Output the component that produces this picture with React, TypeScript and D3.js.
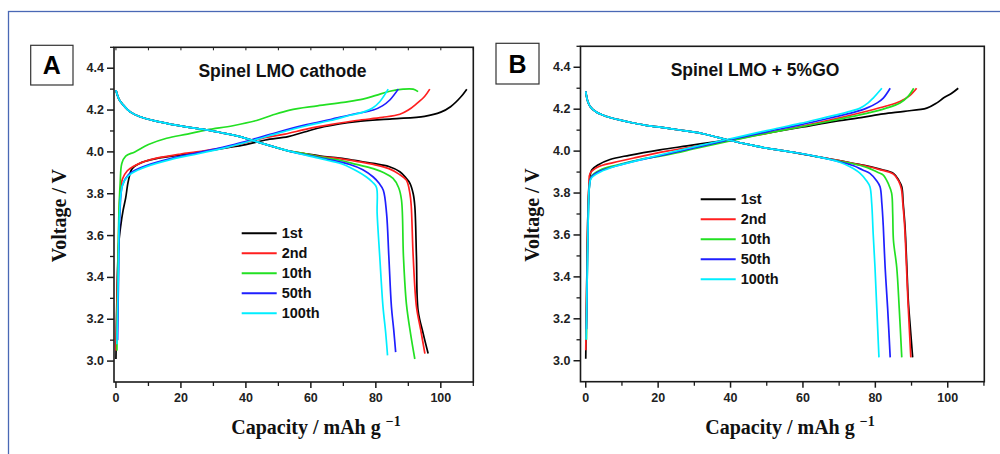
import React from "react";
import * as d3 from "d3";

// ---------- data ----------
const cycles = ["1st", "2nd", "10th", "50th", "100th"];
const colors = ["#000000", "#ff1f1f", "#22e022", "#1f1fff", "#00eeff"];
const xMajorTicks = [0, 20, 40, 60, 80, 100];
const xMinorTicks = [10, 30, 50, 70, 90, 110];
const yMajorTicks = [3.0, 3.2, 3.4, 3.6, 3.8, 4.0, 4.2, 4.4];
const yMinorTicks = [3.1, 3.3, 3.5, 3.7, 3.9, 4.1, 4.3, 4.5];

// Panel A charge curves [capacity, voltage]
const aCharge1st = [[0, 3.01], [0.3, 3.3], [0.8, 3.55], [1.5, 3.65], [2.2, 3.72], [3, 3.78], [3.8, 3.86], [5, 3.92], [8, 3.95], [13, 3.97], [22, 3.99], [33, 4.017], [40, 4.035], [46, 4.057], [53, 4.073], [58, 4.095], [64, 4.12], [74, 4.145], [85, 4.158], [95, 4.17], [100, 4.19], [103, 4.216], [106, 4.26], [108, 4.3]];
const aCharge2nd = [[0, 3.05], [0.5, 3.4], [0.9, 3.65], [1.3, 3.8], [2, 3.87], [3.5, 3.91], [5.3, 3.93], [8, 3.95], [12.5, 3.97], [20, 3.99], [24.8, 4.0], [35, 4.025], [45, 4.065], [52, 4.085], [59, 4.11], [66, 4.13], [74, 4.15], [82, 4.165], [87.4, 4.18], [90, 4.2], [92.5, 4.23], [95, 4.265], [96.6, 4.3]];
const aCharge10th = [[0.3, 3.05], [0.6, 3.4], [0.9, 3.7], [1.3, 3.85], [1.8, 3.945], [3, 3.98], [5.8, 4.0], [10, 4.035], [15.6, 4.065], [22, 4.085], [28, 4.105], [36, 4.125], [43.3, 4.15], [48, 4.175], [53.5, 4.2], [62, 4.22], [70, 4.237], [76, 4.252], [80, 4.27], [84.3, 4.29], [88.4, 4.3], [91.5, 4.3], [93, 4.288]];
const aCharge50th = [[0.5, 3.1], [0.8, 3.4], [1.2, 3.7], [2, 3.84], [3.8, 3.89], [7, 3.92], [12.5, 3.95], [20, 3.98], [25, 3.995], [35, 4.03], [43.3, 4.065], [50, 4.095], [58.7, 4.13], [66, 4.155], [73, 4.18], [79.2, 4.2], [82, 4.22], [84.3, 4.248], [86.9, 4.3]];
const aCharge100th = [[0.3, 3.08], [0.7, 3.4], [1.1, 3.7], [2, 3.84], [3.8, 3.885], [7, 3.915], [12.5, 3.945], [20, 3.975], [25, 3.99], [35, 4.025], [43.3, 4.06], [50, 4.09], [58.7, 4.125], [66, 4.15], [72, 4.175], [76.1, 4.19], [79, 4.21], [81.2, 4.24], [83.8, 4.3]];

// Panel A discharge curves
const aDischargeStart = [[0, 4.295], [1, 4.25], [2.2, 4.225], [4.5, 4.19], [7.4, 4.168], [12, 4.148], [17.6, 4.13], [22, 4.118], [27.9, 4.105], [33, 4.09], [38.2, 4.073], [43, 4.05], [48.4, 4.025], [53, 4.005]];
const aDischarge1stEnd = [[58.7, 3.99], [63, 3.98], [68.9, 3.97], [74, 3.958], [79.2, 3.945], [84, 3.93], [87.4, 3.905], [89.3, 3.875], [90.5, 3.85], [91.5, 3.8], [92, 3.74], [92.5, 3.5], [93, 3.243], [94.6, 3.13], [96.1, 3.036]];
const aDischarge2ndEnd = [[58.7, 3.99], [63, 3.978], [68.9, 3.968], [74, 3.955], [79.2, 3.94], [84, 3.92], [87, 3.895], [89.4, 3.865], [90.5, 3.8], [90.9, 3.74], [91.5, 3.5], [92.5, 3.26], [93.8, 3.15], [95.1, 3.036]];
const aDischarge10thEnd = [[58.7, 3.99], [63, 3.975], [68.9, 3.96], [74, 3.94], [79.2, 3.92], [82.5, 3.9], [85.3, 3.873], [87, 3.83], [87.9, 3.77], [88.5, 3.5], [89.4, 3.275], [90.7, 3.13], [92, 3.01]];
const aDischarge50thEnd = [[58.7, 3.985], [65, 3.965], [72, 3.94], [76, 3.915], [79.2, 3.88], [81, 3.85], [82.3, 3.817], [83.3, 3.706], [84, 3.5], [84.8, 3.26], [85.5, 3.15], [86.1, 3.043]];
const aDischarge100thEnd = [[58.7, 3.983], [65, 3.96], [70, 3.94], [74, 3.91], [77.1, 3.88], [79, 3.855], [80.2, 3.83], [80.4, 3.706], [81.2, 3.5], [82.2, 3.26], [83, 3.14], [83.6, 3.027]];

// Panel B charge curves
const bCharge1st = [[0, 3.01], [0.3, 3.4], [0.6, 3.7], [1, 3.85], [1.66, 3.91], [3.5, 3.935], [6.7, 3.96], [12, 3.98], [20.5, 4.006], [28, 4.025], [36.2, 4.046], [43, 4.065], [50, 4.086], [60, 4.115], [68.4, 4.141], [76, 4.16], [82.2, 4.178], [88, 4.19], [94.2, 4.205], [97, 4.23], [98.8, 4.253], [101, 4.275], [102.9, 4.3]];
const bCharge2nd = [[0, 3.05], [0.3, 3.4], [0.6, 3.7], [0.9, 3.84], [1.2, 3.894], [3.5, 3.925], [7.6, 3.945], [14, 3.97], [22.4, 4.0], [31, 4.025], [40.8, 4.054], [50, 4.085], [59.2, 4.117], [68, 4.15], [77.6, 4.19], [83, 4.215], [86.8, 4.237], [89.5, 4.265], [91.4, 4.3]];
const bCharge10th = [[0.2, 3.1], [0.4, 3.4], [0.7, 3.7], [1, 3.83], [1.5, 3.878], [4, 3.91], [8.6, 3.934], [15, 3.96], [22.4, 3.982], [31, 4.015], [40.8, 4.052], [50, 4.085], [59.2, 4.115], [68, 4.145], [77.6, 4.18], [83, 4.205], [86.8, 4.23], [89, 4.26], [90.6, 4.3]];
const bCharge50th = [[0.2, 3.15], [0.4, 3.4], [0.7, 3.7], [1, 3.83], [1.5, 3.875], [4, 3.905], [8.6, 3.93], [15, 3.958], [22.4, 3.985], [31, 4.02], [40.8, 4.058], [50, 4.092], [59.2, 4.125], [68, 4.16], [74, 4.185], [77.6, 4.205], [80.5, 4.23], [82.2, 4.253], [84.1, 4.3]];
const bCharge100th = [[0.1, 3.1], [0.4, 3.4], [0.7, 3.7], [1, 3.83], [1.5, 3.87], [4, 3.9], [8.6, 3.93], [15, 3.958], [22.4, 3.99], [31, 4.025], [40.8, 4.062], [50, 4.098], [59.2, 4.132], [66, 4.16], [72, 4.185], [75.8, 4.205], [78, 4.23], [79.4, 4.253], [81.8, 4.3]];

// Panel B discharge curves
const bDischargeStart = [[0, 4.285], [0.5, 4.24], [1.2, 4.213], [3, 4.185], [5.8, 4.165], [9, 4.15], [13.1, 4.134], [17, 4.122], [22.4, 4.11], [27, 4.098], [31.6, 4.086], [35, 4.072], [39, 4.054], [44, 4.035], [50, 4.014], [57, 3.995], [63.8, 3.974]];
const bDischarge1stEnd = [[70, 3.955], [75, 3.938], [77.6, 3.93], [81, 3.915], [85, 3.894], [86.5, 3.86], [87.3, 3.83], [87.7, 3.75], [88.2, 3.64], [88.7, 3.45], [89.1, 3.288], [89.7, 3.15], [90.3, 3.016]];
const bDischarge2ndEnd = [[70, 3.955], [75, 3.937], [77.6, 3.928], [81, 3.913], [85, 3.89], [86.5, 3.855], [87.2, 3.82], [87.6, 3.75], [88.1, 3.64], [88.6, 3.45], [89, 3.288], [89.4, 3.15], [89.8, 3.016]];
const bDischarge10thEnd = [[70, 3.953], [75, 3.935], [78, 3.92], [80.5, 3.9], [82.2, 3.886], [83.7, 3.84], [84.5, 3.8], [84.8, 3.7], [85, 3.575], [85.9, 3.447], [86.6, 3.25], [87.3, 3.016]];
const bDischarge50thEnd = [[70, 3.95], [74, 3.93], [76.5, 3.91], [78.5, 3.894], [80.3, 3.86], [81.3, 3.83], [81.8, 3.75], [82.2, 3.64], [82.7, 3.447], [83.4, 3.25], [84.1, 3.016]];
const bDischarge100thEnd = [[70, 3.948], [73, 3.925], [75.8, 3.894], [77.5, 3.86], [78.5, 3.83], [79, 3.75], [79.4, 3.607], [79.9, 3.447], [80.4, 3.25], [81, 3.016]];

const aCharges = [aCharge1st, aCharge2nd, aCharge10th, aCharge50th, aCharge100th];
const aDischarges = [aDischarge1stEnd, aDischarge2ndEnd, aDischarge10thEnd, aDischarge50thEnd, aDischarge100thEnd].map((t) => aDischargeStart.concat(t));
const bCharges = [bCharge1st, bCharge2nd, bCharge10th, bCharge50th, bCharge100th];
const bDischarges = [bDischarge1stEnd, bDischarge2ndEnd, bDischarge10thEnd, bDischarge50thEnd, bDischarge100thEnd].map((t) => bDischargeStart.concat(t));

type Pt = number[];

interface PanelProps {
  letter: string;
  title: string;
  charges: Pt[][];
  discharges: Pt[][];
  xDomain: [number, number];
  left: number;
  right: number;
  top: number;
  bottom: number;
  letterBox: [number, number, number, number];
  titleX: number;
  titleY: number;
  yLabelX: number;
  xLabelX: number;
  legendX: number;
  legendY: number;
  topTicks: boolean;
}

const sans = "'Liberation Sans', Arial, sans-serif";
const serif = "'Liberation Serif', 'Times New Roman', serif";

function Panel(p: PanelProps) {
  const x = d3.scaleLinear().domain(p.xDomain).range([p.left, p.right]);
  const y = d3.scaleLinear().domain([2.9, 4.5]).range([p.bottom, p.top]);
  const line = d3
    .line<Pt>()
    .x((d) => x(d[0]))
    .y((d) => y(d[1]))
    .curve(d3.curveCatmullRom.alpha(0.5));
  const axisColor = "#1a1a1a";
  return (
    <g>
      {/* letter box */}
      <rect x={p.letterBox[0]} y={p.letterBox[1]} width={p.letterBox[2]} height={p.letterBox[3]} fill="white" stroke="#333" strokeWidth={1.2} />
      <text x={p.letterBox[0] + p.letterBox[2] / 2} y={p.letterBox[1] + p.letterBox[3] / 2 + 9} textAnchor="middle" fontFamily={sans} fontWeight="bold" fontSize={25} fill="#000">
        {p.letter}
      </text>
      {/* curves */}
      {p.charges.map((c, i) => (
        <path key={"c" + i} d={line(c) || ""} fill="none" stroke={colors[i]} strokeWidth={1.7} />
      ))}
      {p.discharges.map((c, i) => (
        <path key={"d" + i} d={line(c) || ""} fill="none" stroke={colors[i]} strokeWidth={1.7} />
      ))}
      {/* frame */}
      <rect x={p.left} y={p.top} width={p.right - p.left} height={p.bottom - p.top} fill="none" stroke={axisColor} strokeWidth={1.6} />
      {/* x ticks */}
      {xMajorTicks.map((t) => (
        <g key={"xm" + t}>
          <line x1={x(t)} x2={x(t)} y1={p.bottom} y2={p.bottom + 6} stroke={axisColor} strokeWidth={1.5} />
          {p.topTicks && <line x1={x(t)} x2={x(t)} y1={p.top} y2={p.top + 3} stroke={axisColor} strokeWidth={1} />}
          <text x={x(t)} y={p.bottom + 20} textAnchor="middle" fontFamily={sans} fontWeight="bold" fontSize={12.5} fill="#222">
            {t}
          </text>
        </g>
      ))}
      {xMinorTicks.map((t) => (
        <g key={"xn" + t}>
          <line x1={x(t)} x2={x(t)} y1={p.bottom} y2={p.bottom + 4} stroke={axisColor} strokeWidth={1.3} />
          {p.topTicks && <line x1={x(t)} x2={x(t)} y1={p.top} y2={p.top + 3} stroke={axisColor} strokeWidth={1} />}
        </g>
      ))}
      {/* y ticks */}
      {yMajorTicks.map((t) => (
        <g key={"ym" + t}>
          <line x1={p.left - 7} x2={p.left} y1={y(t)} y2={y(t)} stroke={axisColor} strokeWidth={1.5} />
          <text x={p.left - 10} y={y(t) + 4} textAnchor="end" fontFamily={sans} fontWeight="bold" fontSize={12.5} fill="#222">
            {t.toFixed(1)}
          </text>
        </g>
      ))}
      {yMinorTicks.map((t) => (
        <line key={"yn" + t} x1={p.left - 4} x2={p.left} y1={y(t)} y2={y(t)} stroke={axisColor} strokeWidth={1.3} />
      ))}
      {/* title */}
      <text x={p.titleX} y={p.titleY} textAnchor="middle" fontFamily={sans} fontWeight="bold" fontSize={17.5} fill="#111">
        {p.title}
      </text>
      {/* legend */}
      {cycles.map((c, i) => (
        <g key={"lg" + c}>
          <line x1={p.legendX} x2={p.legendX + 35} y1={p.legendY + i * 20} y2={p.legendY + i * 20} stroke={colors[i]} strokeWidth={2} />
          <text x={p.legendX + 40} y={p.legendY + i * 20 + 5} fontFamily={sans} fontWeight="bold" fontSize={14.5} fill="#111">
            {c}
          </text>
        </g>
      ))}
      {/* axis titles */}
      <text transform={`translate(${p.yLabelX},${(p.top + p.bottom) / 2 + 1}) rotate(-90)`} textAnchor="middle" dominantBaseline="central" fontFamily={serif} fontWeight="bold" fontSize={20} fill="#111">
        Voltage / V
      </text>
      <text x={p.xLabelX} y={434} textAnchor="middle" fontFamily={serif} fontWeight="bold" fontSize={20} fill="#111">
        Capacity / mAh g <tspan dy={-8} fontSize={14}>−1</tspan>
      </text>
    </g>
  );
}

export default function App() {
  return (
    <svg width={1000} height={454} style={{ position: "absolute", left: 0, top: 0, background: "white" }}>
      <rect x={0} y={0} width={1000} height={454} fill="white" />
      <rect x={8.5} y={11.5} width={1000} height={500} fill="none" stroke="#4a68b5" strokeWidth={1.3} />
      <Panel
        letter="A"
        title="Spinel LMO cathode"
        charges={aCharges}
        discharges={aDischarges}
        xDomain={[-0.6, 110]}
        left={114}
        right={473.3}
        top={47.3}
        bottom={382}
        letterBox={[30.7, 45.3, 42.3, 39.7]}
        titleX={282.5}
        titleY={77}
        yLabelX={59}
        xLabelX={316}
        legendX={241.7}
        legendY={233.3}
        topTicks={true}
      />
      <Panel
        letter="B"
        title="Spinel LMO + 5%GO"
        charges={bCharges}
        discharges={bDischarges}
        xDomain={[-1.45, 110.1]}
        left={580.5}
        right={984.3}
        top={46.3}
        bottom={381.7}
        letterBox={[496, 43.3, 43, 40.7]}
        titleX={755}
        titleY={76}
        yLabelX={532}
        xLabelX={790}
        legendX={700.7}
        legendY={199.3}
        topTicks={false}
      />
    </svg>
  );
}
